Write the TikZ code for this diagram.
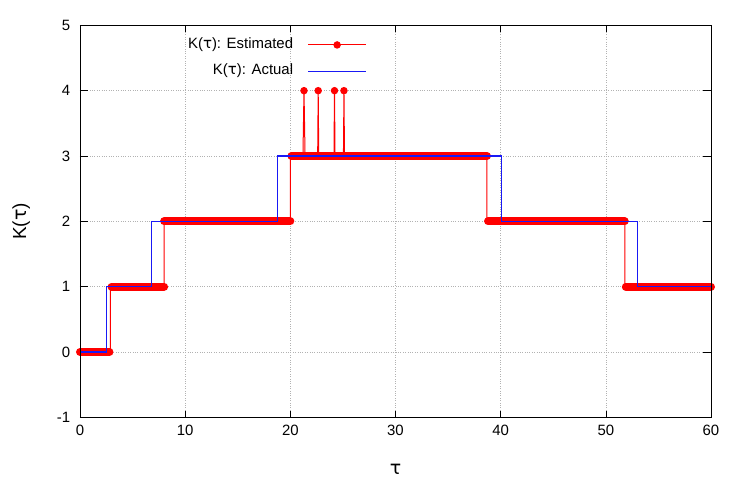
\documentclass[tikz,border=0pt]{standalone}
\usepackage{fontspec}
\setmainfont{Liberation Sans}
\newfontfamily\tauf{DejaVu Sans}
\newcommand{\mytau}{{\tauf τ}}
\definecolor{actb}{RGB}{25,25,245}
\begin{document}
\begin{tikzpicture}[x=10.517bp,y=65.33bp,
  lbl/.style={font=\fontsize{15}{15}\selectfont},
  estline/.style={draw=red,line width=1bp},
  fat/.style={draw=red,line width=8bp,line cap=round},
  actline/.style={color=actb,line width=1.1bp},
  dot/.style={circle,fill=red,inner sep=0pt,minimum size=7.5bp}]
\useasboundingbox (-7.607,-2.097) rectangle (63.71,5.388);
% grid
\foreach \x in {10,20,...,50} \draw[gray!60,dotted] (\x,-1) -- (\x,5);
\foreach \y in {0,...,4} \draw[gray!60,dotted] (0,\y) -- (60,\y);
% ticks
\foreach \x in {0,10,...,60} {\draw (\x,-1) -- ++(0,0.1); \draw (\x,5) -- ++(0,-0.1);
  \node[lbl,anchor=north] (xl\x) at (\x,-1.07) {\x};}
\foreach \y in {-1,0,...,5} {\draw (0,\y) -- ++(0.8,0); \draw (60,\y) -- ++(-0.8,0);
  \node[lbl,anchor=east] (yl\y) at (-0.6,\y) {\y};}
\node[font=\fontsize{19}{19}\selectfont,rotate=90] (ylab) at (-5.6,2) {K(\mytau)};
\node[font=\fontsize{19}{19}\selectfont] (xlab) at (30,-1.8) {\mytau};
% estimated fat segments
\draw[fat] (0,0) -- (2.8,0);
\draw[fat] (3.0,1) -- (8.0,1);
\draw[fat] (8.0,2) -- (20.0,2);
\draw[fat] (20.1,3) -- (38.7,3);
\draw[fat] (38.8,2) -- (51.8,2);
\draw[fat] (51.9,1) -- (60,1);
\draw[estline] (0,0) -- (2.9,0) -- (2.9,1) -- (8.0,1) -- (8.0,2) -- (20.0,2) -- (20.0,3)
  -- (21.2,3) -- (21.3,4) -- (21.4,3) -- (22.6,3) -- (22.65,4) -- (22.7,3)
  -- (24.15,3) -- (24.2,4) -- (24.25,3) -- (25.05,3) -- (25.1,4) -- (25.15,3)
  -- (38.7,3) -- (38.7,2) -- (51.8,2) -- (51.8,1) -- (60,1);
\foreach \s [count=\i] in {21.3,22.65,24.2,25.1} \node[dot] (sp\i) at (\s,4) {};
% actual
\draw[actline] (0,0) -- (2.5,0) -- (2.5,1) -- (6.8,1);
\draw[actline] (6.8,1) -- (6.8,2) -- (18.8,2);
\draw[actline] (18.8,2) -- (18.8,3) -- (40.1,3);
\draw[actline] (40.1,3) -- (40.1,2) -- (53.0,2);
\draw[actline] (53.0,2) -- (53.0,1) -- (60,1);
% border
\draw[line width=0.8bp] (0,-1) rectangle (60,5);
% legend
\node[lbl,anchor=east] (le1) at (20.6,4.7) {K(\mytau): Estimated};
\node[lbl,anchor=east] (le2) at (20.6,4.3) {K(\mytau): Actual};
\coordinate (a1) at (21.7,4.7); \coordinate (b1) at (27.2,4.7);
\coordinate (a2) at (21.7,4.3); \coordinate (b2) at (27.2,4.3);
\draw[estline] (a1) -- (b1);
\node[dot] (ld) at (24.45,4.7) {};
\draw[actline] (a2) -- (b2);
\end{tikzpicture}
\end{document}
